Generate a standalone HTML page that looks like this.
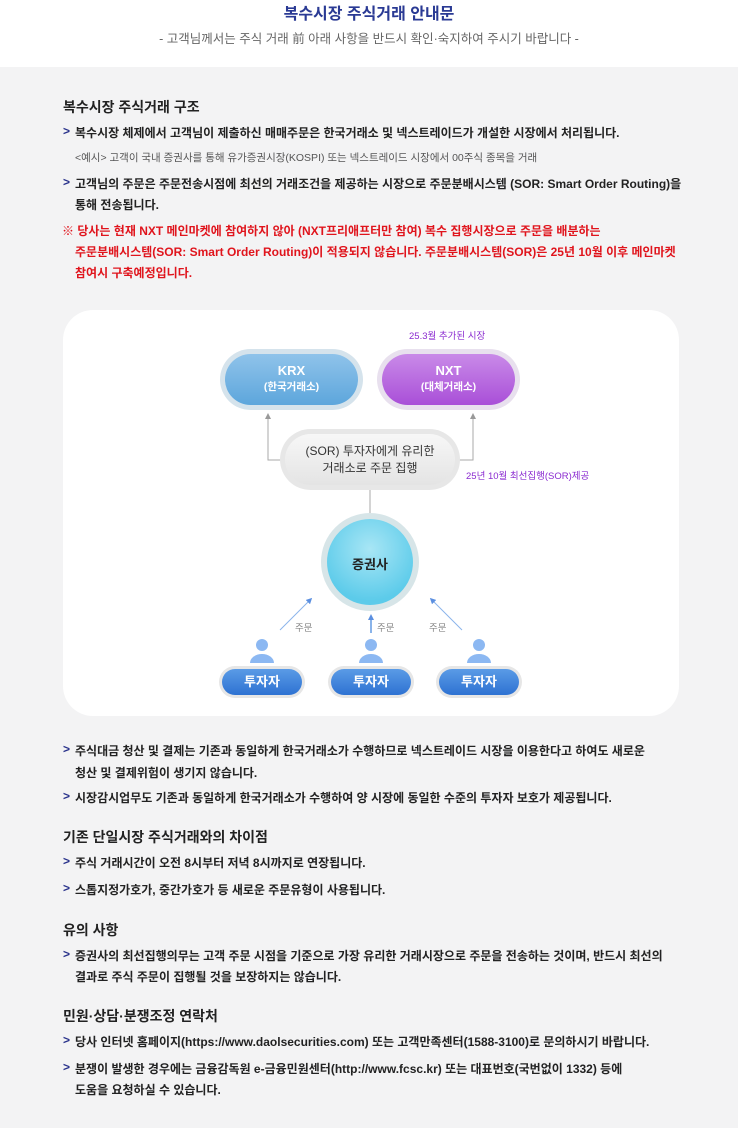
<!DOCTYPE html>
<html><head><meta charset="utf-8"><style>
*{margin:0;padding:0;box-sizing:border-box}
body{width:738px;height:1128px;background:#f3f3f4;font-family:"Liberation Sans","Noto Sans CJK KR",sans-serif;color:#222;position:relative;overflow:hidden}
.top{position:absolute;left:0;top:0;width:738px;height:67px;background:#fff}
.t1{position:absolute;top:0;width:738px;text-align:center;font-size:16px;color:#2a3a94;font-weight:bold}
.t2{position:absolute;top:28px;width:738px;text-align:center;font-size:12.5px;color:#666}
.a{position:absolute;font-size:12px;font-weight:bold;color:#222;white-space:nowrap}
.a b{color:#27308a;position:absolute;left:-12px}
.h{position:absolute;left:63px;font-size:14px;font-weight:bold;color:#222}
.s{position:absolute;font-size:10.5px;color:#555;white-space:nowrap}
.r{position:absolute;font-size:12px;font-weight:bold;color:#e0141c;white-space:nowrap}
.card{position:absolute;left:63px;top:310px;width:616px;height:406px;background:#fff;border-radius:30px}
.pill{position:absolute;border-radius:34px;text-align:center;color:#fff;font-weight:bold}
.lbl{position:absolute;font-size:9.5px;color:#8a2ad0;white-space:nowrap}
.inv{position:absolute;width:86px;height:32px;border-radius:16px;background:#e6e6e6;padding:3px}
.inv div{width:80px;height:26px;border-radius:13px;background:linear-gradient(#5a9be6,#2e72d2);color:#fff;font-weight:bold;font-size:13px;text-align:center;line-height:26px}
.ord{position:absolute;font-size:9.5px;color:#888}
</style></head><body>
<div class="top"></div>
<div class="t1">복수시장 주식거래 안내문</div>
<div class="t2">- 고객님께서는 주식 거래 前 아래 사항을 반드시 확인·숙지하여 주시기 바랍니다 -</div>

<div class="h" style="top:97px">복수시장 주식거래 구조</div>
<div class="a" style="left:75px;top:124px"><b>&gt;</b>복수시장 체제에서 고객님이 제출하신 매매주문은 한국거래소 및 넥스트레이드가 개설한 시장에서 처리됩니다.</div>
<div class="s" style="left:75px;top:150px">&lt;예시&gt; 고객이 국내 증권사를 통해 유가증권시장(KOSPI) 또는 넥스트레이드 시장에서 00주식 종목을 거래</div>
<div class="a" style="left:75px;top:175px"><b>&gt;</b>고객님의 주문은 주문전송시점에 최선의 거래조건을 제공하는 시장으로 주문분배시스템 (SOR: Smart Order Routing)을</div>
<div class="a" style="left:75px;top:196px">통해 전송됩니다.</div>
<div class="r" style="left:62px;top:222px">※ 당사는 현재 NXT 메인마켓에 참여하지 않아 (NXT프리애프터만 참여) 복수 집행시장으로 주문을 배분하는</div>
<div class="r" style="left:75px;top:243px">주문분배시스템(SOR: Smart Order Routing)이 적용되지 않습니다. 주문분배시스템(SOR)은 25년 10월 이후 메인마켓</div>
<div class="r" style="left:75px;top:264px">참여시 구축예정입니다.</div>

<div class="card"></div>
<svg style="position:absolute;left:0;top:0" width="738" height="1128">
<defs><marker id="m" markerUnits="userSpaceOnUse" markerWidth="6" markerHeight="6" refX="3" refY="3" orient="auto"><path d="M0,0L6,3L0,6z" fill="#999"/></marker>
<marker id="mb" markerUnits="userSpaceOnUse" markerWidth="6" markerHeight="6" refX="3" refY="3" orient="auto"><path d="M0,0L6,3L0,6z" fill="#5b8fe0"/></marker>
<radialGradient id="cg" cx="50%" cy="35%" r="60%"><stop offset="0" stop-color="#a8e6f5"/><stop offset="1" stop-color="#5ccbea"/></radialGradient></defs>
<path d="M283,460H268V416" stroke="#aaa" fill="none" marker-end="url(#m)"/>
<path d="M459,460H473V416" stroke="#aaa" fill="none" marker-end="url(#m)"/>
<line x1="370" y1="490" x2="370" y2="515" stroke="#aaa"/>
<circle cx="370" cy="562" r="49" fill="#d7e5e8"/>
<circle cx="370" cy="562" r="43" fill="url(#cg)"/>
<line x1="280" y1="630" x2="310" y2="600" stroke="#8ab4ea" marker-end="url(#mb)"/>
<line x1="371" y1="633" x2="371" y2="617" stroke="#8ab4ea" stroke-width="2" marker-end="url(#mb)"/>
<line x1="462" y1="630" x2="432" y2="600" stroke="#8ab4ea" marker-end="url(#mb)"/>
<g fill="#8cb8f2"><circle cx="262" cy="645" r="6"/><path d="M250,663a12,9 0 0 1 24,0z"/>
<circle cx="371" cy="645" r="6"/><path d="M359,663a12,9 0 0 1 24,0z"/>
<circle cx="479" cy="645" r="6"/><path d="M467,663a12,9 0 0 1 24,0z"/></g>
</svg>
<div class="pill" style="left:220px;top:349px;width:143px;height:61px;background:#d5e3ec;padding:5px"><div style="height:51px;border-radius:26px;background:linear-gradient(#8fc3ea,#5da6dc);padding-top:9px;font-size:13px;line-height:15px">KRX<br><span style="font-size:10.5px">(한국거래소)</span></div></div>
<div class="pill" style="left:377px;top:349px;width:143px;height:61px;background:#e8e0ee;padding:5px"><div style="height:51px;border-radius:26px;background:linear-gradient(#c98ae8,#a94fd8);padding-top:9px;font-size:13px;line-height:15px">NXT<br><span style="font-size:10.5px">(대체거래소)</span></div></div>
<div class="lbl" style="left:409px;top:328px">25.3월 추가된 시장</div>
<div class="pill" style="left:280px;top:429px;width:180px;height:61px;background:#e7e7e7;padding:5px"><div style="height:51px;border-radius:26px;background:linear-gradient(#f7f7f7,#e4e4e4);padding-top:9px;font-size:12px;line-height:17px;color:#333;font-weight:normal">(SOR) 투자자에게 유리한<br>거래소로 주문 집행</div></div>
<div class="lbl" style="left:466px;top:468px">25년 10월 최선집행(SOR)제공</div>
<div style="position:absolute;left:330px;top:554px;width:80px;text-align:center;font-size:13px;font-weight:bold;color:#222">증권사</div>
<div class="ord" style="left:295px;top:620px">주문</div>
<div class="ord" style="left:377px;top:620px">주문</div>
<div class="ord" style="left:429px;top:620px">주문</div>
<div class="inv" style="left:219px;top:666px"><div>투자자</div></div>
<div class="inv" style="left:328px;top:666px"><div>투자자</div></div>
<div class="inv" style="left:436px;top:666px"><div>투자자</div></div>

<div class="a" style="left:75px;top:742px"><b>&gt;</b>주식대금 청산 및 결제는 기존과 동일하게 한국거래소가 수행하므로 넥스트레이드 시장을 이용한다고 하여도 새로운</div>
<div class="a" style="left:75px;top:764px">청산 및 결제위험이 생기지 않습니다.</div>
<div class="a" style="left:75px;top:789px"><b>&gt;</b>시장감시업무도 기존과 동일하게 한국거래소가 수행하여 양 시장에 동일한 수준의 투자자 보호가 제공됩니다.</div>
<div class="h" style="top:827px">기존 단일시장 주식거래와의 차이점</div>
<div class="a" style="left:75px;top:854px"><b>&gt;</b>주식 거래시간이 오전 8시부터 저녁 8시까지로 연장됩니다.</div>
<div class="a" style="left:75px;top:881px"><b>&gt;</b>스톱지정가호가, 중간가호가 등 새로운 주문유형이 사용됩니다.</div>
<div class="h" style="top:920px">유의 사항</div>
<div class="a" style="left:75px;top:947px"><b>&gt;</b>증권사의 최선집행의무는 고객 주문 시점을 기준으로 가장 유리한 거래시장으로 주문을 전송하는 것이며, 반드시 최선의</div>
<div class="a" style="left:75px;top:968px">결과로 주식 주문이 집행될 것을 보장하지는 않습니다.</div>
<div class="h" style="top:1006px">민원·상담·분쟁조정 연락처</div>
<div class="a" style="left:75px;top:1033px"><b>&gt;</b>당사 인터넷 홈페이지(https://www.daolsecurities.com) 또는 고객만족센터(1588-3100)로 문의하시기 바랍니다.</div>
<div class="a" style="left:75px;top:1060px"><b>&gt;</b>분쟁이 발생한 경우에는 금융감독원 e-금융민원센터(http://www.fcsc.kr) 또는 대표번호(국번없이 1332) 등에</div>
<div class="a" style="left:75px;top:1081px">도움을 요청하실 수 있습니다.</div>
</body></html>
